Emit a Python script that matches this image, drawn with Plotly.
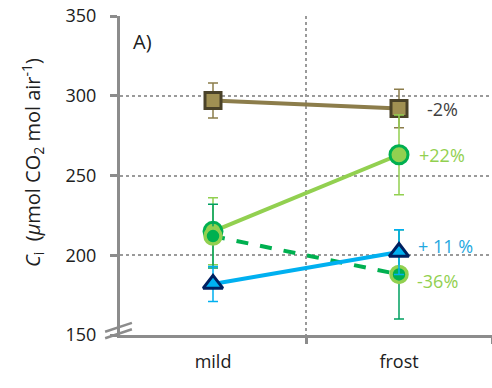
import plotly.graph_objects as go

# Ci at mild vs frost conditions
categories = ["mild", "frost"]
cat_pos = [0.5, 1.5]

brown_vals = [297, 292]
brown_err = [11, 12]

light_green_vals = [215, 263]
light_green_err = [21, 25]

dark_green_vals = [212, 188]
dark_green_err = [20, 28]

blue_vals = [182, 202]
blue_err = [11, 14]

labels = ["-2%", "+22%", "+ 11 %", "-36%"]
label_y = [292, 263, 206, 184]
label_shift = [26, 18, 17, 16]
label_colors = ["#404040", "#92D050", "#1FA8E0", "#92D050"]

FONT = "Open Sans"
GRID = "#9A9A9A"
AXIS = "#8C8C8C"

fig = go.Figure()

fig.add_trace(go.Scatter(
    x=cat_pos, y=brown_vals, mode="lines+markers",
    line=dict(color="#8C7D4B", width=4),
    marker=dict(symbol="square", size=16, color="#A09052",
                line=dict(color="#4A4228", width=3)),
    error_y=dict(type="data", array=brown_err, color="#8C7D4B",
                 thickness=1.5, width=5),
))

fig.add_trace(go.Scatter(
    x=cat_pos, y=light_green_vals, mode="lines+markers",
    line=dict(color="#92D050", width=4),
    marker=dict(symbol="circle", size=18, color="#92D050",
                line=dict(color="#00B050", width=3)),
    error_y=dict(type="data", array=light_green_err, color="#92D050",
                 thickness=1.5, width=5),
))

fig.add_trace(go.Scatter(
    x=cat_pos, y=dark_green_vals, mode="lines+markers",
    line=dict(color="#00B050", width=4, dash="dash"),
    marker=dict(symbol="circle", size=16, color="#00B050",
                line=dict(color="#92D050", width=3.5)),
    error_y=dict(type="data", array=dark_green_err, color="#00A060",
                 thickness=1.5, width=5),
))

fig.add_trace(go.Scatter(
    x=cat_pos, y=blue_vals, mode="lines+markers",
    line=dict(color="#00B0F0", width=4),
    marker=dict(symbol="triangle-up", size=17, color="#00B0F0",
                line=dict(color="#002060", width=3)),
    error_y=dict(type="data", array=blue_err, color="#00B0F0",
                 thickness=1.5, width=5),
))

for txt, yv, col, sh in zip(labels, label_y, label_colors, label_shift):
    fig.add_annotation(x=cat_pos[1], y=yv, text=txt, showarrow=False,
                       xanchor="left", xshift=sh,
                       font=dict(family=FONT, size=18, color=col))

fig.add_annotation(x=0, y=1, xref="paper", yref="paper", text="A)",
                   showarrow=False, xanchor="left", yanchor="top",
                   xshift=11, yshift=-10,
                   font=dict(family=FONT, size=20, color="#202020"))

# axis break marks
for y0, y1 in [(0.010, 0.038), (-0.010, 0.018)]:
    fig.add_shape(type="line", xref="paper", yref="paper",
                  x0=-0.040, x1=0.032, y0=y0, y1=y1,
                  line=dict(color=AXIS, width=2.5))

pad = "&nbsp;" * 5
fig.update_layout(
    width=492, height=388,
    margin=dict(l=120, r=0, t=16, b=53),
    paper_bgcolor="white", plot_bgcolor="white",
    showlegend=False,
    font=dict(family=FONT, size=18, color="#202020"),
    xaxis=dict(
        range=[0, 2], tickmode="array", tickvals=cat_pos, ticktext=categories,
        ticks="", showgrid=False, zeroline=False,
        showline=True, linecolor=AXIS, linewidth=3,
        ticklabelstandoff=8,
        minor=dict(tickmode="array", tickvals=[1, 2], ticks="outside",
                   ticklen=6, tickwidth=3, tickcolor=AXIS,
                   showgrid=True, gridcolor=GRID, griddash="dot", gridwidth=1.5),
    ),
    yaxis=dict(
        range=[150, 350], tickmode="array", tickvals=[150, 200, 250, 300, 350],
        ticks="outside", ticklen=7, tickwidth=3, tickcolor=AXIS,
        showline=True, linecolor=AXIS, linewidth=3, zeroline=False,
        showgrid=True, gridcolor=GRID, griddash="dot", gridwidth=1.5,
        ticklabelstandoff=10,
        title=dict(text=pad + "<i>C</i><sub>i</sub>  (<i>µ</i>mol CO<sub>2</sub> mol air<sup>-1</sup>)",
                   standoff=20, font=dict(family=FONT, size=20)),
    ),
)

fig.write_html("out.html")
